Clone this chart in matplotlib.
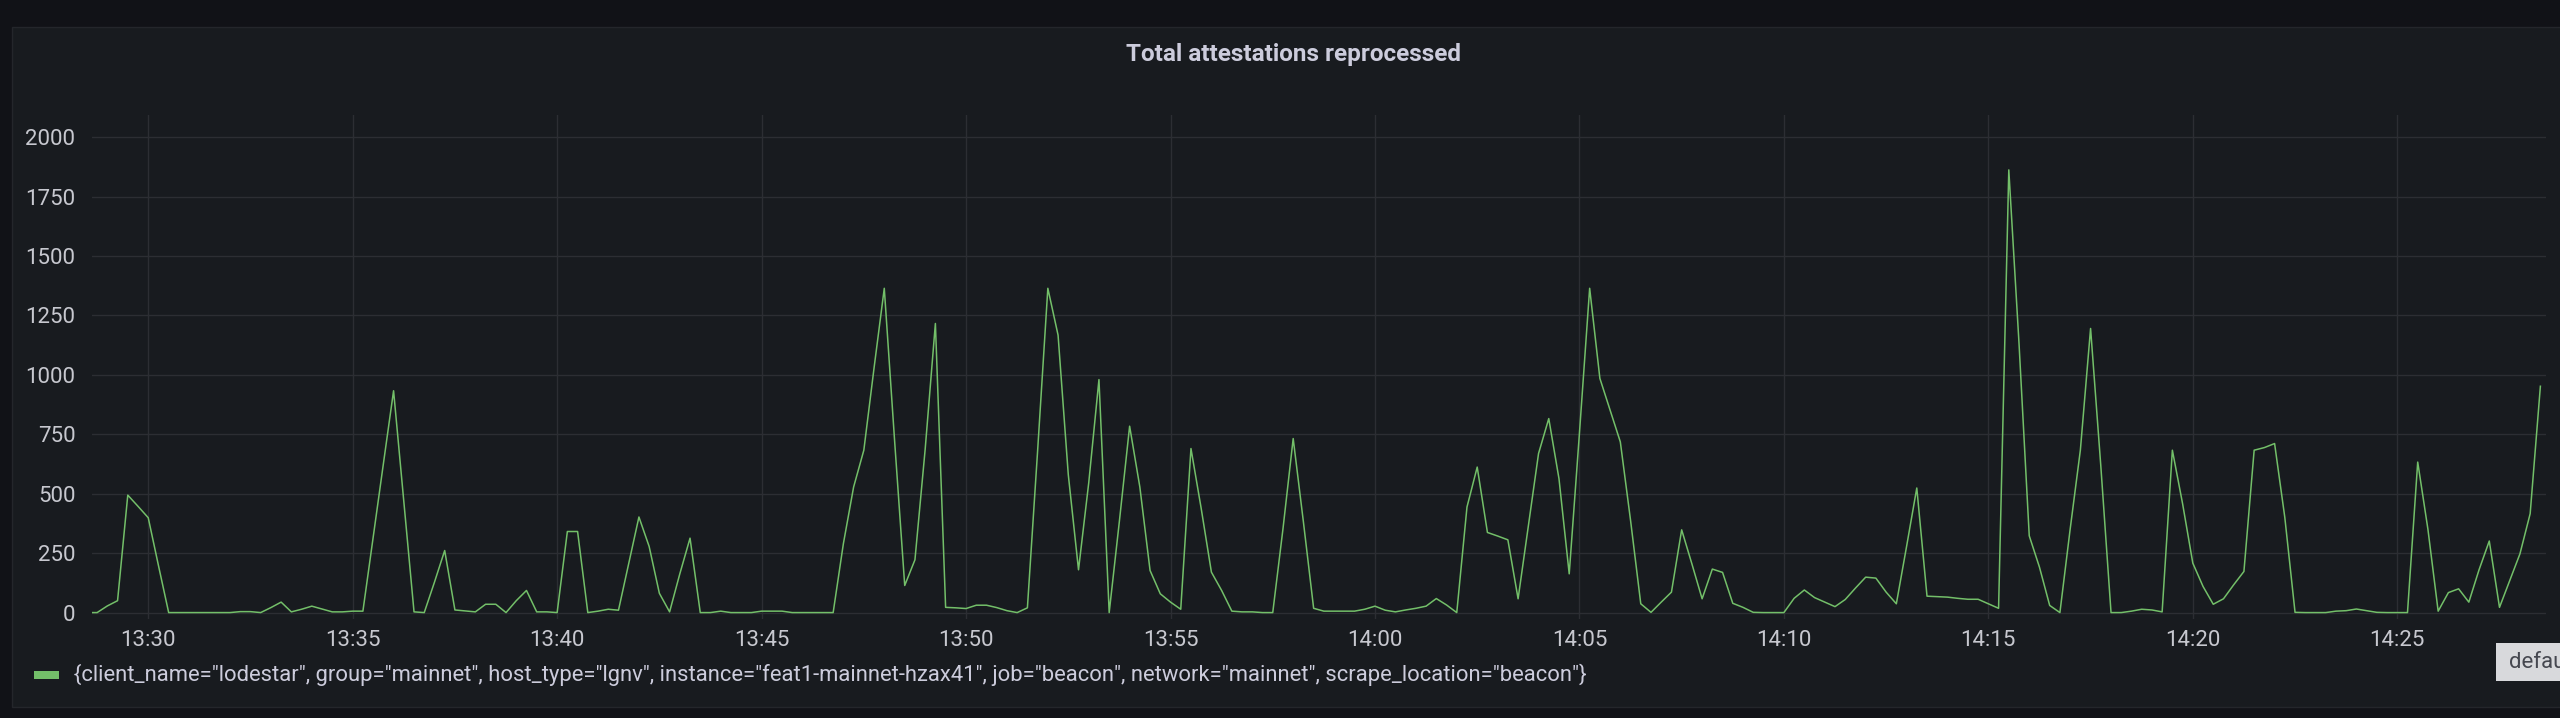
import datetime as dt

import matplotlib
matplotlib.use('Agg')
import matplotlib.pyplot as plt
import matplotlib.dates as mdates
from matplotlib.patches import Rectangle

plt.rcParams['font.family'] = ['Roboto', 'DejaVu Sans']

# --- data ---
title = 'Total attestations reprocessed'
series_label = ('{client_name="lodestar", group="mainnet", host_type="lgnv", '
                'instance="feat1-mainnet-hzax41", job="beacon", network="mainnet", '
                'scrape_location="beacon"}')
range_start = dt.datetime(2022, 5, 10, 13, 28, 37, 500000)
range_end = dt.datetime(2022, 5, 10, 14, 28, 37, 500000)
first_value = 0
step_start = dt.datetime(2022, 5, 10, 13, 28, 45)
step_seconds = 15
reprocessed = [
    0, 28, 50, 494, 447, 399, 198, 0, 0, 0, 0, 0, 0, 0, 4, 4, 0, 21, 44, 3,
    14, 27, 15, 3, 3, 6, 6, 317, 625, 933, 468, 3, 0, 128, 261, 11, 7, 3, 35, 35,
    0, 50, 93, 3, 3, 0, 341, 341, 0, 6, 14, 10, 206, 402, 278, 81, 3, 163, 313, 0,
    0, 6, 0, 0, 0, 6, 6, 6, 0, 0, 0, 0, 0, 290, 528, 683, 1029, 1364, 729, 114,
    222, 687, 1216, 22, 20, 17, 31, 31, 21, 8, 0, 20, 681, 1364, 1167, 580, 180, 546, 980, 0,
    385, 784, 528, 177, 79, 44, 14, 690, 438, 170, 93, 6, 3, 3, 0, 0, 352, 732, 381, 18,
    6, 6, 6, 6, 14, 27, 10, 3, 11, 18, 27, 59, 32, 0, 444, 612, 337, 322, 306, 58,
    364, 669, 816, 563, 163, 754, 1364, 985, 851, 718, 388, 37, 1, 44, 86, 348, 205, 58, 183, 169,
    39, 22, 1, 0, 0, 0, 60, 95, 63, 44, 25, 55, 103, 149, 145, 86, 37, 278, 524, 69,
    67, 65, 60, 56, 56, 37, 18, 1862, 1132, 323, 191, 30, 0, 350, 683, 1195, 617, 0, 0, 6,
    14, 11, 3, 683, 458, 208, 110, 35, 58, 117, 173, 683, 694, 711, 400, 1, 0, 0, 0, 6,
    8, 15, 8, 1, 0, 0, 0, 633, 350, 6, 84, 100, 44, 180, 301, 22, 135, 247, 416, 952,
]
y_ticks = [0, 250, 500, 750, 1000, 1250, 1500, 1750, 2000]

times = [range_start] + [step_start + dt.timedelta(seconds=step_seconds * i)
                         for i in range(len(reprocessed))]
values = [first_value] + reprocessed

W, H = 2560, 718
page_bg = '#111217'
panel_bg = '#181b1f'
grid_col = '#2c2e33'
text_col = '#ccccdc'
green = '#73bf69'

fig = plt.figure(figsize=(W / 100, H / 100), dpi=100, facecolor=page_bg)

# panel card, behind the axes
fig.patches.append(Rectangle((11.5 / W, 1 - 707 / H), 1.0, (707 - 26.5) / H,
                             transform=fig.transFigure, facecolor=panel_bg,
                             edgecolor='#24262b', linewidth=1, zorder=-5))

fig.text(1293 / W, 1 - 55 / H, title, ha='center', va='center',
         fontsize=17.5, fontweight='bold', color=text_col)

ax = fig.add_axes([92 / W, 1 - 619 / H, (2545.5 - 92) / W, (619 - 114.5) / H])
ax.set_zorder(1)
ax.set_facecolor(panel_bg)
ax.plot(times, values, color=green, linewidth=1.1)

ax.set_xlim(range_start, range_end)
ax.set_ylim(-27, 2095)
ax.set_yticks(y_ticks)
ax.xaxis.set_major_locator(mdates.MinuteLocator(byminute=range(0, 60, 5)))
ax.xaxis.set_major_formatter(mdates.DateFormatter('%H:%M'))

ax.set_axisbelow(True)
ax.grid(True, color=grid_col, linewidth=1)
for s in ax.spines.values():
    s.set_visible(False)
ax.tick_params(axis='both', length=0, labelsize=16, labelcolor='#c7c8cf')
ax.tick_params(axis='y', pad=12)
ax.tick_params(axis='x', pad=8)

# legend row
fig.patches.append(Rectangle((34.4 / W, 1 - 678.5 / H), 24.7 / W, 8 / H,
                             transform=fig.transFigure, facecolor=green,
                             edgecolor='none', zorder=2))
fig.text(73.5 / W, 1 - 674.5 / H, series_label, ha='left', va='center',
         fontsize=15.8, color=text_col)

# cut-off tooltip box in the corner
fig.patches.append(Rectangle((2496 / W, 1 - 681 / H), 0.05, 38 / H,
                             transform=fig.transFigure, facecolor='#d8d9dc',
                             edgecolor='none', zorder=3))
fig.text(2508.5 / W, 1 - 662 / H, 'defau', ha='left', va='center',
         fontsize=16, color='#464850', zorder=4)

fig.savefig('out.png', dpi=100, facecolor=page_bg)
